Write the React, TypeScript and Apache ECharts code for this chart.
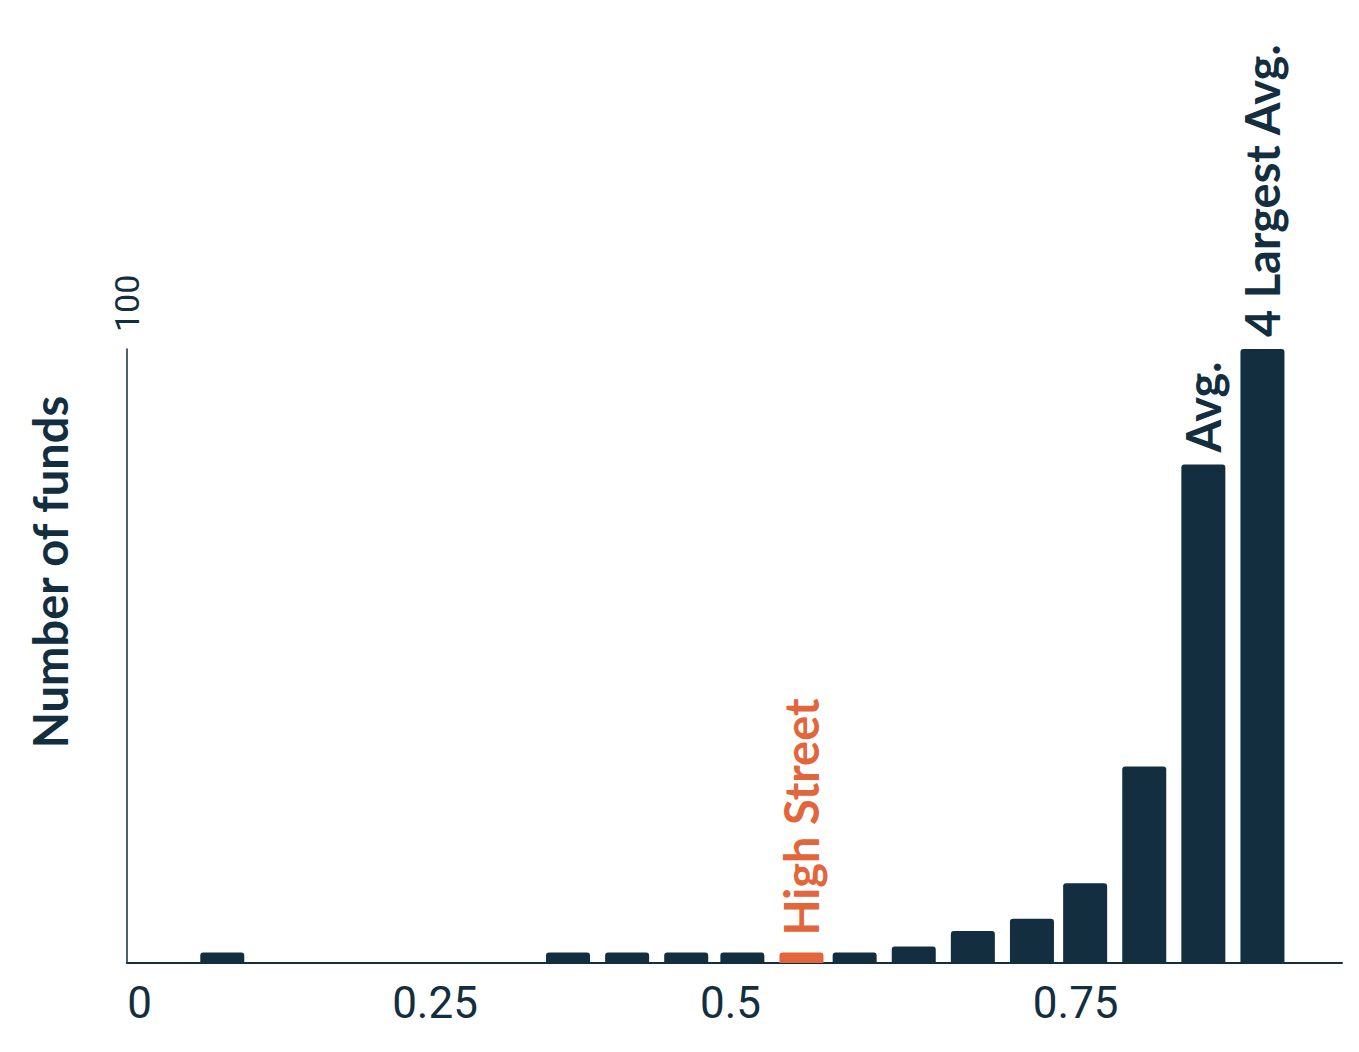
import React, { useEffect, useRef } from "react";
import * as echarts from "echarts";

// ---- data ----
const binCenters = [0.07, 0.3625, 0.4125, 0.4625, 0.51, 0.56, 0.605, 0.655, 0.705, 0.755, 0.8, 0.85, 0.9, 0.95];
const fundCounts = [1.7, 1.7, 1.7, 1.7, 1.7, 1.7, 1.7, 2.7, 5.2, 7.2, 13, 32, 81.2, 100];
const highlightIndex = 5;
const annotationIndex = [5, 12, 13];
const annotationText = ["High Street", "Avg.", "4 Largest Avg."];
const xTickLabels = ["0", "0.25", "0.5", "0.75"];
const xTickValues = [0, 0.25, 0.5, 0.792];
const yMax = 100;
const yAxisTitle = "Number of funds";

const NAVY = "#122e3f";
const ORANGE = "#e2653b";

export default function App() {
  const ref = useRef<HTMLDivElement>(null);
  useEffect(() => {
    if (!ref.current) return;
    const chart = echarts.init(ref.current, null, { renderer: "svg" });
    const data = binCenters.map((x, i) => {
      const ai = annotationIndex.indexOf(i);
      const isHi = i === highlightIndex;
      const item: any = {
        value: [x, fundCounts[i]],
        itemStyle: { color: isHi ? ORANGE : NAVY, borderRadius: [3, 3, 0, 0] },
      };
      if (ai >= 0) {
        item.label = {
          show: true,
          formatter: annotationText[ai],
          position: "top",
          rotate: 90,
          align: "left",
          verticalAlign: "middle",
          distance: isHi ? 17 : 12,
          fontFamily: "Lato",
          fontWeight: "bold",
          fontSize: 47,
          color: isHi ? ORANGE : NAVY,
        };
      }
      return item;
    });
    chart.setOption({
      animation: false,
      grid: { left: 127, right: 17, top: 349, bottom: 89, containLabel: false },
      xAxis: {
        type: "value",
        min: -0.0106,
        max: 1.0173,
        axisLine: { show: true, onZero: false, lineStyle: { color: NAVY, width: 2 } },
        axisTick: { show: false },
        splitLine: { show: false },
        axisLabel: {
          customValues: xTickValues,
          formatter: (v: number) => {
            const i = xTickValues.indexOf(v);
            return i >= 0 ? xTickLabels[i] : "";
          },
          fontFamily: "Roboto",
          fontSize: 44,
          color: NAVY,
          margin: 18,
        },
      },
      yAxis: {
        type: "value",
        min: 0,
        max: yMax,
        name: String(yMax),
        nameLocation: "end",
        nameRotate: 90,
        nameGap: 17,
        nameTextStyle: { fontFamily: "Roboto", fontSize: 34, color: NAVY },
        axisLine: { show: true, onZero: false, lineStyle: { color: NAVY, width: 1.5 } },
        axisTick: { show: false },
        axisLabel: { show: false },
        splitLine: { show: false },
      },
      graphic: [
        {
          type: "text",
          x: 50,
          y: 572,
          rotation: Math.PI / 2,
          style: {
            text: yAxisTitle,
            fontFamily: "Lato",
            fontWeight: "bold",
            fontSize: 47,
            fill: NAVY,
            textAlign: "center",
            textVerticalAlign: "middle",
          },
        },
      ],
      series: [
        {
          type: "bar",
          data,
          barWidth: 44,
          label: { show: false },
        },
      ],
    });
    return () => chart.dispose();
  }, []);
  return (
    <div
      ref={ref}
      style={{ position: "absolute", left: 0, top: 0, width: 1359, height: 1052 }}
    />
  );
}
